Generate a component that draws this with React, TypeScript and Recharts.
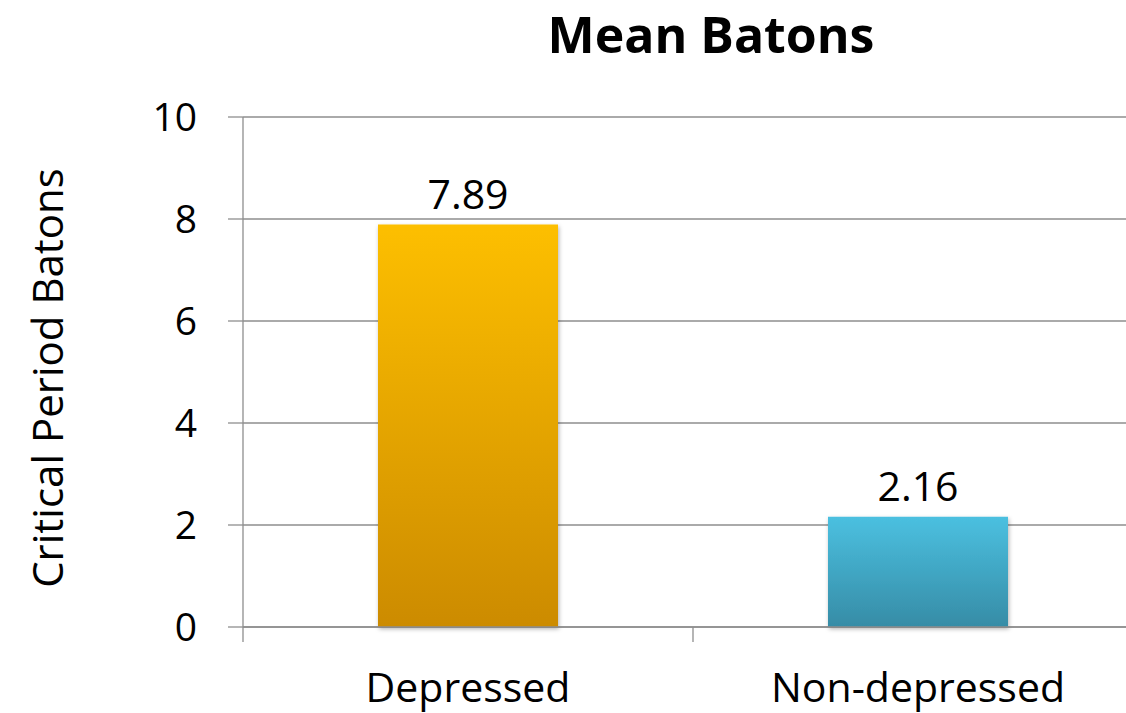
import { BarChart, Bar, XAxis, YAxis, CartesianGrid, LabelList, Cell } from "recharts";

const categories = ["Depressed", "Non-depressed"];
const meanBatons = [7.89, 2.16];
const yTicks = [0, 2, 4, 6, 8, 10];

const data = categories.map((name, i) => ({ name, value: meanBatons[i] }));

const FONT = "'Open Sans', sans-serif";
const GRID = "#8e8e8e";
const CHART_W = 1160;
const Y_AXIS_W = 243;
const MARGIN_R = 17;
const HALF_BAND = (CHART_W - Y_AXIS_W - MARGIN_R) / categories.length / 2;

const XTick = (props: any) => {
  const { x, y, payload, index } = props;
  return (
    <g>
      <line x1={x - HALF_BAND} y1={y - 8} x2={x - HALF_BAND} y2={y + 7} stroke={GRID} strokeWidth={1.3} />
      {index === categories.length - 1 && (
        <line x1={x + HALF_BAND} y1={y - 8} x2={x + HALF_BAND} y2={y + 7} stroke={GRID} strokeWidth={1.3} />
      )}
      <text x={x} y={y + 67} textAnchor="middle" fontFamily={FONT} fontSize={41} fill="#000">
        {payload.value}
      </text>
    </g>
  );
};

const YLabel = () => (
  <text
    x={46}
    y={378}
    transform="rotate(-90 46 378)"
    textAnchor="middle"
    dominantBaseline="central"
    fontFamily={FONT}
    fontSize={42}
    fill="#000"
  >
    Critical Period Batons
  </text>
);

export default function App() {
  return (
    <div style={{ position: "absolute", left: 0, top: 0, width: 1126, height: 713, overflow: "hidden", background: "#fff" }}>
      <div
        style={{
          position: "absolute",
          top: 0,
          left: 0,
          width: 1422,
          textAlign: "center",
          fontFamily: FONT,
          fontWeight: 700,
          fontSize: 50,
          color: "#000",
        }}
      >
        Mean Batons
      </div>
      <BarChart
        width={CHART_W}
        height={713}
        data={data}
        margin={{ top: 117, right: MARGIN_R, bottom: 0, left: 0 }}
        barCategoryGap="30%"
      >
        <defs>
          <linearGradient id="g-dep" x1="0" y1="0" x2="0" y2="1">
            <stop offset="0%" stopColor="#fdbf00" />
            <stop offset="100%" stopColor="#cc8b00" />
          </linearGradient>
          <linearGradient id="g-non" x1="0" y1="0" x2="0" y2="1">
            <stop offset="0%" stopColor="#4bc0e0" />
            <stop offset="100%" stopColor="#368ca6" />
          </linearGradient>
          <filter id="shadow" x="-10%" y="-10%" width="120%" height="120%">
            <feDropShadow dx="1" dy="2" stdDeviation="2" floodColor="#000" floodOpacity={0.3} />
          </filter>
        </defs>
        <CartesianGrid stroke={GRID} strokeWidth={1.3} vertical={false} />
        <XAxis
          dataKey="name"
          height={86}
          axisLine={{ stroke: GRID, strokeWidth: 1.3 }}
          tickLine={false}
          tick={<XTick />}
          interval={0}
        />
        <YAxis
          width={Y_AXIS_W}
          domain={[0, 10]}
          ticks={yTicks}
          axisLine={{ stroke: GRID, strokeWidth: 1.3 }}
          tickLine={{ stroke: GRID, strokeWidth: 1.3 }}
          tickSize={15}
          tickMargin={31}
          tick={{ fontFamily: FONT, fontSize: 39, fill: "#000" }}
          label={<YLabel />}
        />
        <Bar dataKey="value" isAnimationActive={false} filter="url(#shadow)">
          <Cell fill="url(#g-dep)" />
          <Cell fill="url(#g-non)" />
          <LabelList dataKey="value" position="top" offset={16} fontFamily={FONT} fontSize={41} fill="#000" />
        </Bar>
      </BarChart>
    </div>
  );
}
